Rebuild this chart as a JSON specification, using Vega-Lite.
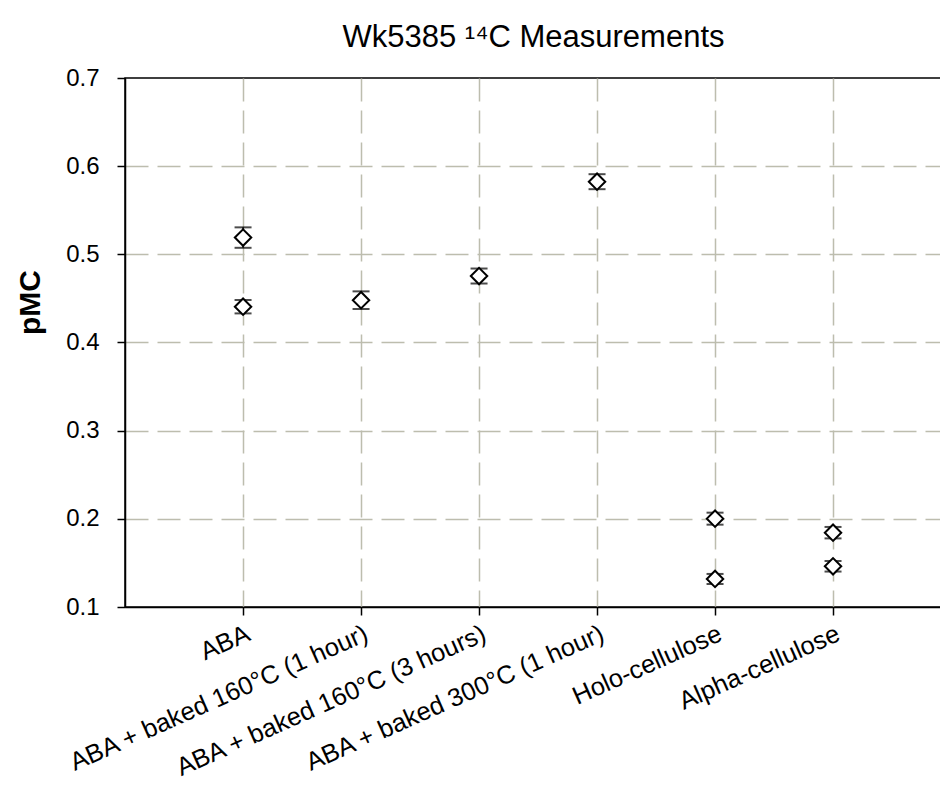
{
  "$schema": "https://vega.github.io/schema/vega-lite/v6.json",
  "autosize": {"type": "none"},
  "padding": {"left": 125, "top": 78, "right": 0, "bottom": 180},
  "width": 817,
  "height": 529,
  "background": "white",
  "title": {
    "text": "Wk5385 ¹⁴C Measurements",
    "font": "Liberation Sans",
    "fontSize": 31,
    "fontWeight": "normal",
    "color": "black",
    "anchor": "middle",
    "offset": 12
  },
  "config": {
    "view": {"stroke": "black", "strokeWidth": 1.5},
    "axis": {
      "labelFont": "Liberation Sans",
      "labelColor": "black",
      "domainColor": "black",
      "domainWidth": 1.5,
      "tickColor": "black",
      "tickWidth": 1.5,
      "tickSize": 8,
      "gridColor": "#bdbdae",
      "gridDash": [23, 9],
      "gridWidth": 1.5
    },
    "axisY": {"labelFontSize": 24, "labelPadding": 18},
    "axisX": {"labelFontSize": 25.5}
  },
  "data": {
    "values": [
      {"sample": "ABA", "pmc": 0.519, "lo": 0.5074, "hi": 0.5306},
      {"sample": "ABA", "pmc": 0.4406, "lo": 0.433, "hi": 0.4482},
      {"sample": "ABA + baked 160°C (1 hour)", "pmc": 0.448, "lo": 0.438, "hi": 0.458},
      {"sample": "ABA + baked 160°C (3 hours)", "pmc": 0.4754, "lo": 0.4669, "hi": 0.4839},
      {"sample": "ABA + baked 300°C (1 hour)", "pmc": 0.5824, "lo": 0.5739, "hi": 0.5909},
      {"sample": "Holo-cellulose", "pmc": 0.2002, "lo": 0.1934, "hi": 0.207},
      {"sample": "Holo-cellulose", "pmc": 0.1318, "lo": 0.1261, "hi": 0.1375},
      {"sample": "Alpha-cellulose", "pmc": 0.1843, "lo": 0.1778, "hi": 0.1908},
      {"sample": "Alpha-cellulose", "pmc": 0.1462, "lo": 0.1402, "hi": 0.1522}
    ]
  },
  "encoding": {
    "x": {
      "field": "sample",
      "type": "nominal",
      "sort": null,
      "scale": {"type": "point", "padding": 0.962, "align": 0.52},
      "axis": {
        "title": null,
        "labelAngle": -24,
        "labelAlign": "right",
        "labelBaseline": "top",
        "labelPadding": 6,
        "labelLimit": 600,
        "grid": true
      }
    }
  },
  "layer": [
    {
      "mark": {"type": "rule", "color": "black", "strokeWidth": 1.5},
      "encoding": {
        "y": {
          "field": "lo",
          "type": "quantitative",
          "scale": {"domain": [0.1, 0.7], "nice": false, "zero": false},
          "axis": {
            "title": "pMC",
            "titleFont": "Liberation Sans",
            "titleFontSize": 30,
            "titleFontWeight": "bold",
            "titleColor": "black",
            "titleAngle": -90,
            "titleX": -86,
            "titleY": 224,
            "titleAlign": "center",
            "titleBaseline": "alphabetic",
            "values": [0.1, 0.2, 0.3, 0.4, 0.5, 0.6, 0.7],
            "format": ".1f",
            "grid": true,
            "gridOpacity": {"condition": {"test": "datum.value > 0.65 || datum.value < 0.15", "value": 0}, "value": 1}
          }
        },
        "y2": {"field": "hi"}
      }
    },
    {
      "mark": {"type": "tick", "orient": "horizontal", "color": "black", "size": 17, "thickness": 2},
      "encoding": {"y": {"field": "lo", "type": "quantitative"}}
    },
    {
      "mark": {"type": "tick", "orient": "horizontal", "color": "black", "size": 17, "thickness": 2},
      "encoding": {"y": {"field": "hi", "type": "quantitative"}}
    },
    {
      "mark": {"type": "point", "shape": "diamond", "size": 270, "filled": false, "fill": "white", "fillOpacity": 1, "stroke": "black", "strokeWidth": 2, "opacity": 1},
      "encoding": {"y": {"field": "pmc", "type": "quantitative"}}
    }
  ]
}
